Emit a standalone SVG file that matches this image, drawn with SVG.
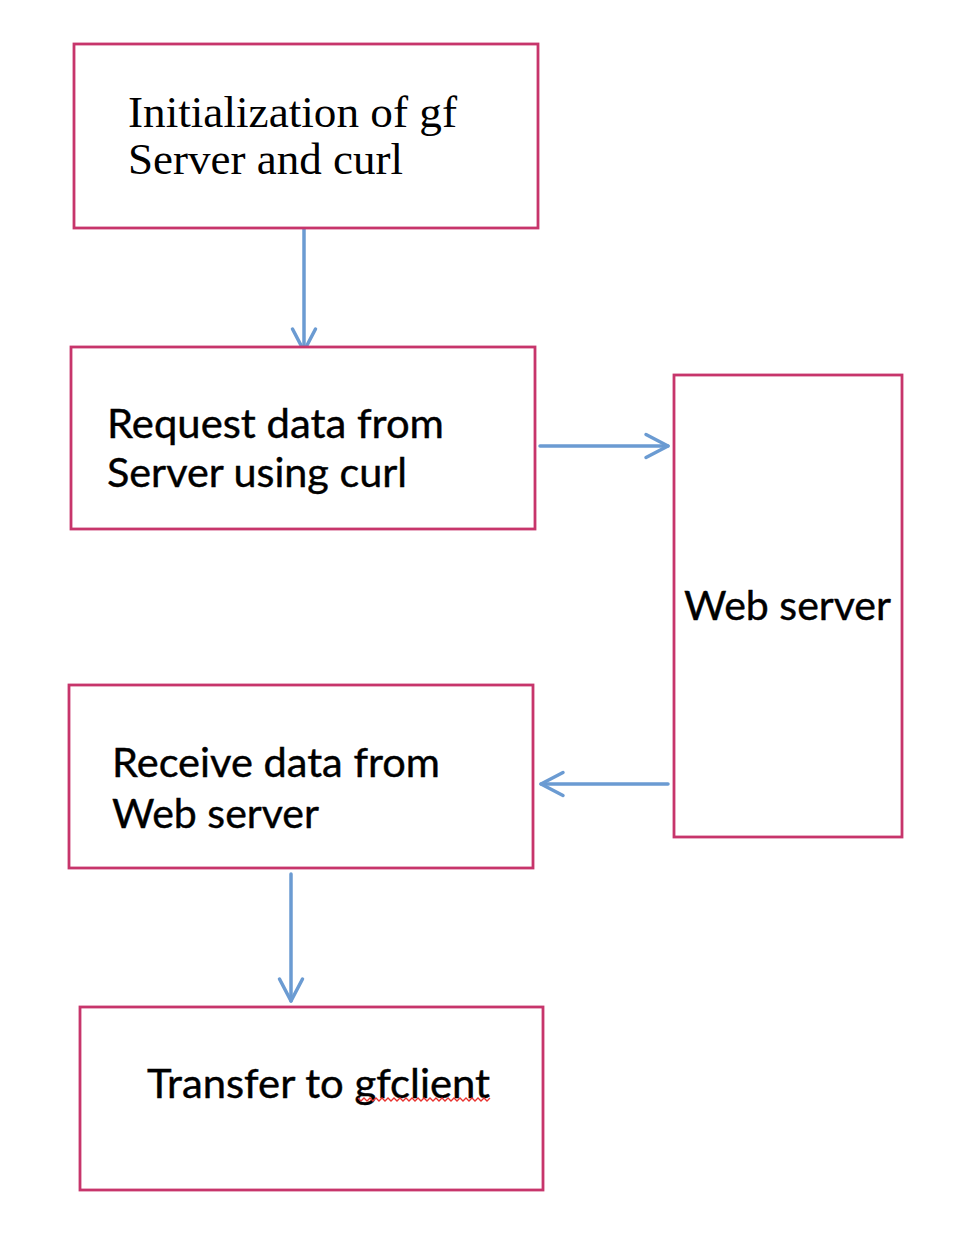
<svg xmlns="http://www.w3.org/2000/svg" width="966" height="1234" viewBox="0 0 966 1234">
<style>
.box{fill:#ffffff;stroke:#C7356B;stroke-width:2.8}
.serif{font-family:"Liberation Serif","Times New Roman",serif;font-size:45px;fill:#000}
.sans{font-family:Lato,"Open Sans","Liberation Sans",sans-serif;font-size:40px;fill:#000;stroke:#000;stroke-width:0.4}
.conn{stroke:#6B9BD2;stroke-width:3.5;fill:none;stroke-linecap:round;marker-end:url(#arr)}
</style>
<defs>
<marker id="arr" markerUnits="userSpaceOnUse" viewBox="-26 -15 30 30" markerWidth="30" markerHeight="30" refX="0" refY="0" orient="auto">
<path d="M-22,-11.5 L0,0 L-22,11.5" fill="none" stroke="#6B9BD2" stroke-width="3.5" stroke-linecap="round" stroke-linejoin="round"/>
</marker>
</defs>
<rect width="966" height="1234" fill="#ffffff"/>
<g id="connectors">
<line class="conn" x1="304" y1="227" x2="304" y2="351"/>
<line class="conn" x1="540" y1="446" x2="668" y2="446"/>
<line class="conn" x1="668" y1="784" x2="541" y2="784"/>
<line class="conn" x1="291" y1="874" x2="291" y2="1001"/>
</g>
<g id="init">
<rect class="box" x="74" y="44" width="464" height="184"/>
<text class="serif" x="128" y="127" textLength="329" lengthAdjust="spacingAndGlyphs">Initialization of gf</text>
<text class="serif" x="128" y="174">Server and curl</text>
</g>
<g id="request">
<rect class="box" x="71" y="347" width="464" height="182"/>
<text class="sans" x="107" y="438" textLength="337" lengthAdjust="spacingAndGlyphs">Request data from</text>
<text class="sans" x="107" y="487" textLength="300" lengthAdjust="spacingAndGlyphs">Server using curl</text>
</g>
<g id="webserver">
<rect class="box" x="674" y="375" width="228" height="462"/>
<text class="sans" x="684" y="620" textLength="207" lengthAdjust="spacingAndGlyphs">Web server</text>
</g>
<g id="receive">
<rect class="box" x="69" y="685" width="464" height="183"/>
<text class="sans" x="112" y="777" textLength="328" lengthAdjust="spacingAndGlyphs">Receive data from</text>
<text class="sans" x="112" y="828" textLength="207" lengthAdjust="spacingAndGlyphs">Web server</text>
</g>
<g id="transfer">
<rect class="box" x="80" y="1007" width="463" height="183"/>
<text class="sans" x="147" y="1098" textLength="343" lengthAdjust="spacingAndGlyphs">Transfer to gfclient</text>
<path d="M358,1098 l3,3 l3,-3 l3,3 l3,-3 l3,3 l3,-3 l3,3 l3,-3 l3,3 l3,-3 l3,3 l3,-3 l3,3 l3,-3 l3,3 l3,-3 l3,3 l3,-3 l3,3 l3,-3 l3,3 l3,-3 l3,3 l3,-3 l3,3 l3,-3 l3,3 l3,-3 l3,3 l3,-3 l3,3 l3,-3 l3,3 l3,-3 l3,3 l3,-3 l3,3 l3,-3 l3,3 l3,-3 l3,3 l3,-3 l3,3 l3,-3" fill="none" stroke="#E8332F" stroke-width="1.3"/>
</g>
</svg>
